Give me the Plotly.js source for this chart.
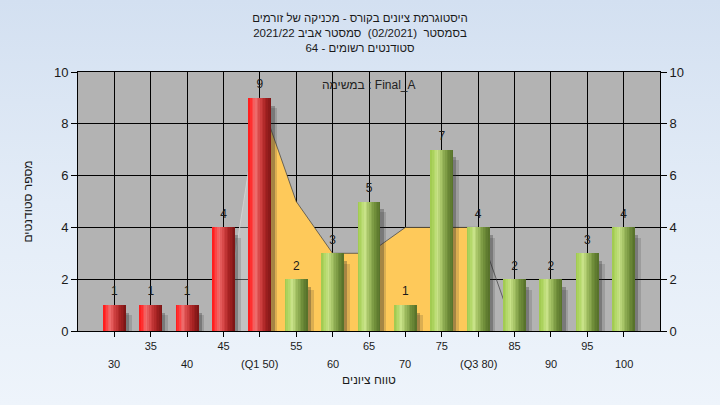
<!DOCTYPE html>
<html>
<head>
<meta charset="utf-8">
<script src="https://cdn.plot.ly/plotly-3.0.1.min.js"></script>
<style>
  html, body { margin: 0; padding: 0; }
  body { background: linear-gradient(180deg, #d3e0f1 0%, #e3ecf7 50%, #eef4fb 100%); width: 720px; height: 405px; overflow: hidden; }
  #chart { width: 720px; height: 405px; }
</style>
</head>
<body>
<div id="chart"></div>
<script>
// ---- data ----
const scores = [30, 35, 40, 45, 50, 55, 60, 65, 70, 75, 80, 85, 90, 95, 100];
const counts = [1, 1, 1, 4, 9, 2, 3, 5, 1, 7, 4, 2, 2, 3, 4];
const tickLabels = ['30', '35', '40', '45', '(Q1 50)', '55', '60', '65', '70', '75', '(Q3 80)', '85', '90', '95', '100'];
const passScore = 55;
const q1Score = 50;
const q3Score = 80;
const areaScores = [45, 50, 55, 60, 65, 70, 75, 80, 85];
const areaCounts = [0, 9, 5, 3, 3, 4, 4, 4, 0];

const titleLines = [
  'היסטוגרמת ציונים בקורס - מכניקה של זורמים',
  'בסמסטר  (02/2021)  סמסטר אביב 2021/22',
  'סטודנטים רשומים - 64'
];
const taskLabel = 'במשימה : Final_A';
const xTitle = 'טווח ציונים';
const yTitle = 'מספר סטודנטים';

// ---- styling helpers ----
const FONT = 'Liberation Sans, Arial, DejaVu Sans, sans-serif';
const BAR_W = 3.15;      // bar width in score units
const N_STRIPES = 14;

const redStops = [
  [0.00, [255, 22, 22]], [0.12, [255, 50, 50]], [0.30, [240, 112, 112]],
  [0.48, [214, 70, 70]], [0.72, [170, 36, 36]], [1.00, [120, 20, 20]]
];
const greenStops = [
  [0.00, [158, 200, 76]], [0.15, [176, 214, 100]], [0.32, [200, 226, 136]],
  [0.50, [160, 190, 96]], [0.75, [112, 142, 58]], [1.00, [84, 110, 40]]
];
function grad(stops, t) {
  for (let k = 1; k < stops.length; k++) {
    if (t <= stops[k][0]) {
      const a = stops[k - 1], b = stops[k];
      const f = (t - a[0]) / (b[0] - a[0]);
      const c = a[1].map((v, j) => Math.round(v + (b[1][j] - v) * f));
      return 'rgb(' + c.join(',') + ')';
    }
  }
  return 'rgb(' + stops[stops.length - 1][1].join(',') + ')';
}

const traces = [];

// yellow inter-quartile area (main subplot, drawn below the overlay subplot)
const inIQR = areaScores.map(s => s >= q1Score && s <= q3Score);
traces.push({
  type: 'scatter', mode: 'lines',
  x: areaScores.filter((s, i) => inIQR[i]),
  y: areaCounts.filter((c, i) => inIQR[i]),
  fill: 'tozeroy', fillcolor: '#fec95a',
  line: { width: 0 }, hoverinfo: 'skip', showlegend: false
});
// left tail (light)
traces.push({
  type: 'scatter', mode: 'lines',
  x: areaScores.filter(s => s <= q1Score),
  y: areaCounts.filter((c, i) => areaScores[i] <= q1Score),
  fill: 'tozeroy', fillcolor: 'rgba(230,230,230,0.3)',
  line: { width: 1, color: '#d0d0d0' }, hoverinfo: 'skip', showlegend: false
});
// outline on top and right tail
traces.push({
  type: 'scatter', mode: 'lines',
  x: areaScores.filter(s => s >= q1Score),
  y: areaCounts.filter((c, i) => areaScores[i] >= q1Score),
  line: { width: 1, color: 'rgba(60,60,60,0.7)' }, hoverinfo: 'skip', showlegend: false
});

// bar shadows (overlay subplot y2)
const shadowLayers = [
  { dx: 0.80, dy: 0.40, col: 'rgba(40,40,40,0.16)' },
  { dx: 0.45, dy: 0.30, col: 'rgba(40,40,40,0.30)' }
];
shadowLayers.forEach(s => {
  traces.push({
    type: 'bar', x: scores, y: counts.map(c => c - s.dy), yaxis: 'y2',
    width: BAR_W, offset: -BAR_W / 2 + s.dx,
    marker: { color: s.col, line: { width: 0 } },
    hoverinfo: 'skip', showlegend: false
  });
});

// bars as vertical gradient stripes
for (let i = 0; i < N_STRIPES; i++) {
  const t = (i + 0.5) / N_STRIPES;
  const start = -BAR_W / 2 + i * BAR_W / N_STRIPES;
  const end = Math.min(BAR_W / 2, start + 1.35 * BAR_W / N_STRIPES);
  traces.push({
    type: 'bar', x: scores, y: counts, yaxis: 'y2',
    width: end - start, offset: start,
    marker: { color: scores.map(s => s < passScore ? grad(redStops, t) : grad(greenStops, t)), line: { width: 0 } },
    hoverinfo: 'skip', showlegend: false
  });
}

// value labels
traces.push({
  type: 'scatter', mode: 'markers+text', x: scores, y: counts, yaxis: 'y2',
  marker: { size: 9, opacity: 0 },
  text: counts.map(String), textposition: 'top center',
  textfont: { family: FONT, size: 12, color: '#1a1a1a' },
  cliponaxis: false, hoverinfo: 'skip', showlegend: false
});

// staggered tick labels: odd positions on first row (axis ticks), even positions as second row
const row1 = tickLabels.map((t, i) => i % 2 === 1 ? t : '');
const annotations = [];
tickLabels.forEach((t, i) => {
  if (i % 2 === 0) {
    annotations.push({
      x: scores[i], xref: 'x', y: -0.127, yref: 'paper', yanchor: 'middle',
      text: t, showarrow: false, font: { family: FONT, size: 11, color: '#1a1a1a' }
    });
  }
});
annotations.push({
  x: 0.5, xref: 'paper', y: 0.95, yref: 'paper', yanchor: 'middle',
  text: taskLabel, showarrow: false, font: { family: FONT, size: 12, color: '#222' }
});

const yAxisCommon = {
  range: [0, 10], dtick: 2, ticks: 'outside', ticklen: 6, tickcolor: '#000',
  showline: true, linecolor: '#000', linewidth: 1,
  tickfont: { family: FONT, size: 13, color: '#1a1a1a' }, fixedrange: true
};

const layout = {
  width: 720, height: 405,
  margin: { l: 78, r: 60, t: 72, b: 74 },
  paper_bgcolor: 'rgba(0,0,0,0)',
  plot_bgcolor: '#b3b3b3',
  barmode: 'overlay', bargap: 0,
  showlegend: false,
  title: {
    text: titleLines.join('<br>'),
    x: 0.5, xref: 'container', xanchor: 'center',
    y: 0.945, yref: 'container', yanchor: 'top',
    font: { family: FONT, size: 11.5, color: '#1a1a1a' }
  },
  xaxis: {
    range: [25, 105], tickvals: scores, ticktext: row1,
    ticks: 'outside', ticklen: 5, tickcolor: '#000',
    showgrid: true, gridcolor: '#000', gridwidth: 1,
    showline: true, linecolor: '#000', linewidth: 1, mirror: true,
    zeroline: false,
    tickfont: { family: FONT, size: 11, color: '#1a1a1a' },
    title: { text: xTitle, standoff: 24, font: { family: FONT, size: 12, color: '#1a1a1a' } },
    fixedrange: true
  },
  yaxis: Object.assign({}, yAxisCommon, {
    showgrid: true, gridcolor: '#000', gridwidth: 1, zeroline: false,
    title: { text: yTitle, standoff: 18, font: { family: FONT, size: 12, color: '#1a1a1a' } }
  }),
  yaxis2: Object.assign({}, yAxisCommon, {
    overlaying: 'y', side: 'right', showgrid: false, zeroline: false
  }),
  annotations: annotations
};

Plotly.newPlot('chart', traces, layout, { staticPlot: true, displayModeBar: false });
</script>
</body>
</html>
